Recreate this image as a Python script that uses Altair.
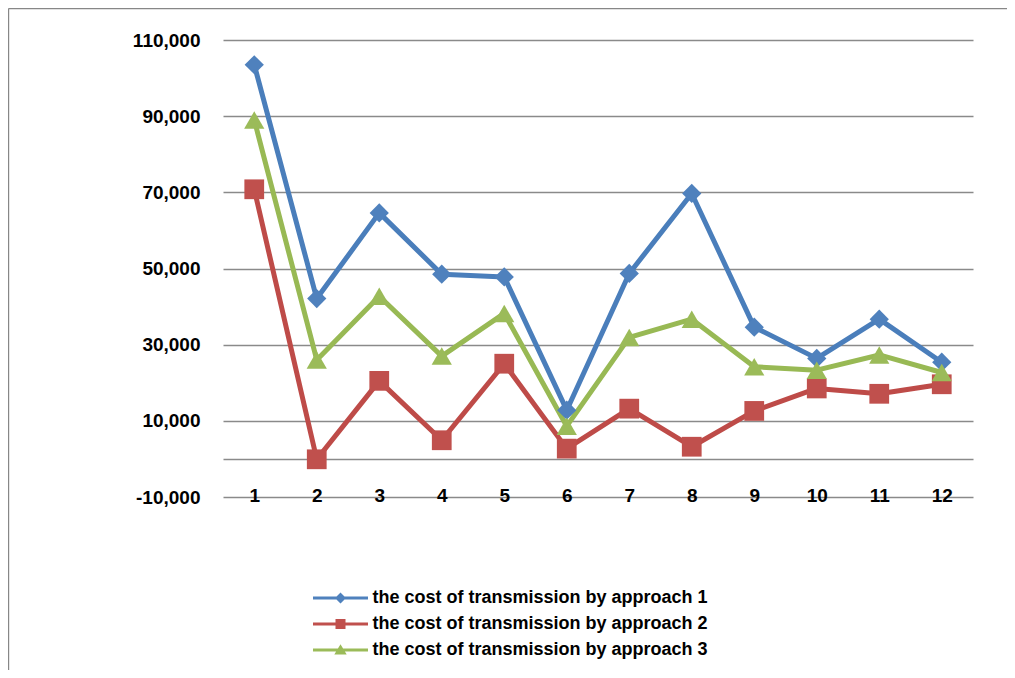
import altair as alt
import pandas as pd

# ---- data ----
periods = list(range(1, 13))
approach1 = [103500, 42100, 64600, 48500, 47800, 12800, 48700, 69700, 34600, 26400, 36700, 25400]
approach2 = [70800, -100, 20500, 4900, 25000, 2700, 13200, 3200, 12600, 18500, 17100, 19600]
approach3 = [89000, 26000, 42700, 27000, 38200, 8600, 31900, 36700, 24200, 23300, 27300, 22700]
series_names = [
    "the cost of transmission by approach 1",
    "the cost of transmission by approach 2",
    "the cost of transmission by approach 3",
]
y_tick_values = [-10000, 0, 10000, 30000, 50000, 70000, 90000, 110000]

# ---- styling ----
line_colors = ["#4A7EBB", "#BE4B48", "#98B954"]
marker_colors = ["#4F81BD", "#C0504D", "#9BBB59"]
marker_shapes = ["diamond", "square", "triangle-up"]
marker_sizes = [370, 410, 430]
legend_paths = [
    "M-2.75,-0.15H2.75V0.15H-2.75Z M-0.55,0L0,-0.55L0.55,0L0,0.55Z",
    "M-2.75,-0.15H2.75V0.15H-2.75Z M-0.5,-0.5H0.5V0.5H-0.5Z",
    "M-2.75,-0.15H2.75V0.15H-2.75Z M0,-0.58L0.62,0.45L-0.62,0.45Z",
]
FONT = "Liberation Sans"

rows = []
for s, vals in zip(series_names, [approach1, approach2, approach3]):
    for p, v in zip(periods, vals):
        rows.append({"period": p, "series": s, "value": v})
df = pd.DataFrame(rows)

x_enc = alt.X(
    "period:O",
    scale=alt.Scale(type="point", padding=0.5),
    axis=alt.Axis(
        title=None, labelAngle=0, ticks=False, tickSize=0, domain=False, grid=False,
        labelBaseline="middle", labelPadding=-2,
        labelFont=FONT, labelFontSize=19, labelFontWeight="bold", labelColor="black",
    ),
)
y_enc = alt.Y(
    "value:Q",
    scale=alt.Scale(domain=[-10000, 110000], nice=False, zero=False),
    axis=alt.Axis(
        title=None, values=y_tick_values, grid=True, gridColor="#8a8a8a", gridWidth=1.6,
        domain=False, ticks=False, tickSize=0, labelPadding=23,
        labelExpr="datum.value == 0 ? '' : (datum.value < 0 ? '-' : '') + format(abs(datum.value), ',')",
        labelFont=FONT, labelFontSize=19, labelFontWeight="bold", labelColor="black",
    ),
)

base = alt.Chart(df)

lines = base.mark_line(strokeWidth=5, strokeJoin="round", strokeCap="round").encode(
    x=x_enc, y=y_enc,
    color=alt.Color("series:N", scale=alt.Scale(domain=series_names, range=line_colors), legend=None),
)

points = base.mark_point(filled=True, opacity=1, strokeWidth=0).encode(
    x=x_enc, y=y_enc,
    color=alt.Color("series:N", scale=alt.Scale(domain=series_names, range=marker_colors), legend=None),
    shape=alt.Shape("series:N", scale=alt.Scale(domain=series_names, range=marker_shapes), legend=None),
    size=alt.Size("series:N", scale=alt.Scale(domain=series_names, range=marker_sizes), legend=None),
    order=alt.Order("series:N"),
)

leg = dict(
    title=None, orient="none", legendX=107.5, legendY=548, padding=0, offset=0,
    symbolSize=400, symbolStrokeWidth=0, symbolOpacity=1, labelOffset=22, rowPadding=7,
    labelFont=FONT, labelFontSize=18, labelFontWeight="bold", labelColor="black",
    labelLimit=600,
)
legend_layer = base.transform_filter("datum.value < -1e12").mark_point(filled=True, opacity=1).encode(
    x=x_enc, y=y_enc,
    color=alt.Color("series:N", scale=alt.Scale(domain=series_names, range=marker_colors), legend=alt.Legend(**leg)),
    shape=alt.Shape("series:N", scale=alt.Scale(domain=series_names, range=legend_paths), legend=alt.Legend(**leg)),
)

frame_df = pd.DataFrame({"k": [0]})
frame_left = alt.Chart(frame_df).mark_rule(color="#878787", strokeWidth=1.4).encode(
    x=alt.value(-214.5), y=alt.value(-31.5), y2=alt.value(700)
)
frame_top = alt.Chart(frame_df).mark_rule(color="#878787", strokeWidth=1.4).encode(
    x=alt.value(-214.5), x2=alt.value(800), y=alt.value(-31.5)
)

chart = (
    alt.layer(lines, points, legend_layer, frame_left, frame_top)
    .resolve_scale(color="independent", shape="independent")
    .properties(
        width=750, height=457,
        autosize=alt.AutoSizeParams(type="none"),
        padding={"left": 215, "top": 32, "right": 34, "bottom": 173},
        background="white",
    )
    .configure_view(strokeWidth=0)
)

chart.save("out.html", embed_options={"renderer": "svg", "actions": False})
